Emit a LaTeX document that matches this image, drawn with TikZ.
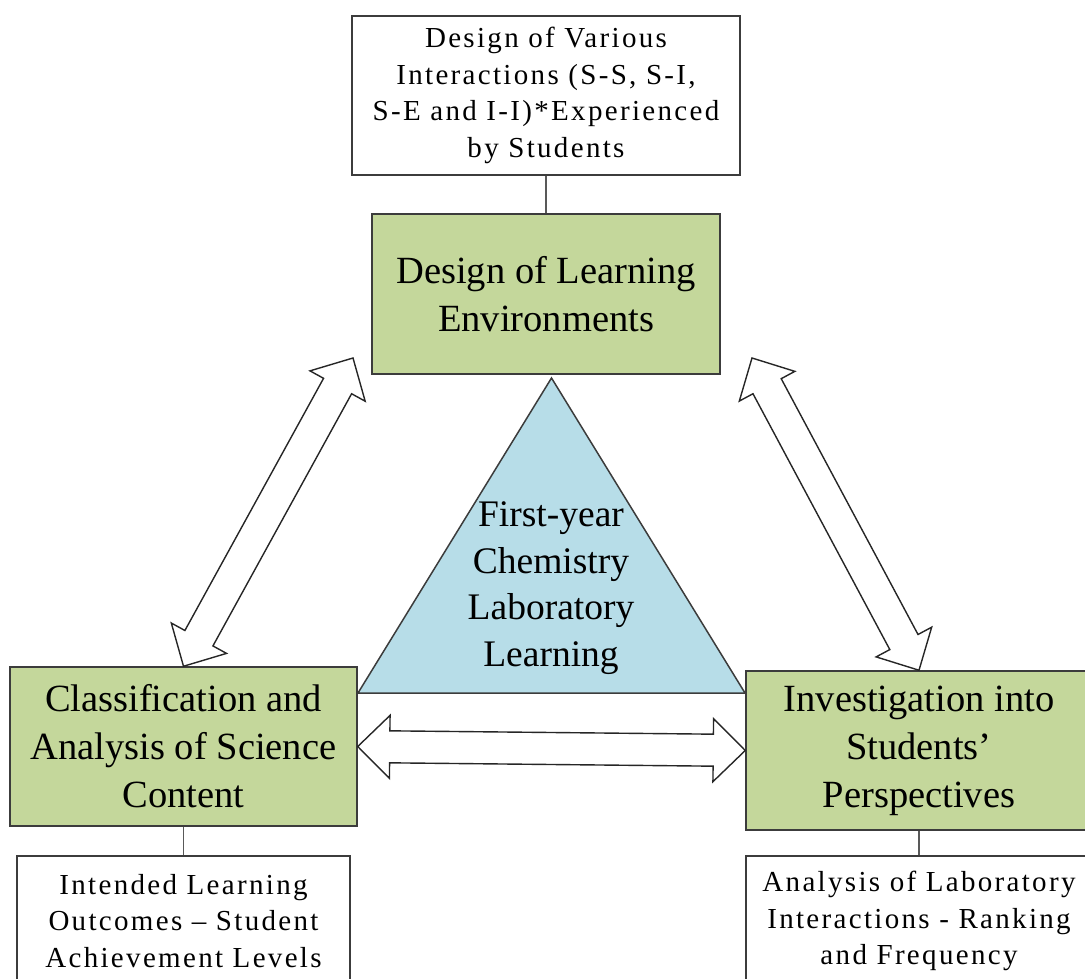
\documentclass[tikz,border=0pt]{standalone}
\usepackage{fontspec}
\setmainfont{Liberation Serif}
\newfontfamily\notefont{Liberation Serif}[LetterSpace=8]
\usetikzlibrary{calc}

\definecolor{boxgreen}{RGB}{196,215,155}
\definecolor{triblue}{RGB}{183,221,232}
\definecolor{edgegray}{RGB}{60,60,60}

\tikzset{
  greenbox/.style={draw=edgegray, line width=1.5pt, fill=boxgreen, align=center,
    font=\fontsize{38.5}{48}\selectfont, inner sep=0pt},
  notebox/.style={draw=edgegray, line width=1.5pt, fill=white, align=center,
    font=\notefont\fontsize{29}{36.5}\selectfont, inner sep=0pt},
  link/.style={draw=edgegray!85, line width=1.5pt},
  fatarrow/.style={draw=black!85, line width=1.4pt, fill=white, line join=miter},
  tri/.style={draw=edgegray, line width=1.5pt, fill=triblue, line join=miter},
}

% hollow double-headed block arrow between two points
\newcommand\dblarrow[2]{%
  \coordinate (ha) at ($(#1)!32pt!(#2)$);
  \coordinate (hb) at ($(#2)!32pt!(#1)$);
  \draw[fatarrow] (#1) -- ($(ha)!31.5pt!90:(#2)$) -- ($(ha)!16pt!90:(#2)$)
    -- ($(hb)!16pt!-90:(#1)$) -- ($(hb)!31.5pt!-90:(#1)$) -- (#2)
    -- ($(hb)!31.5pt!90:(#1)$) -- ($(hb)!16pt!90:(#1)$)
    -- ($(ha)!16pt!-90:(#2)$) -- ($(ha)!31.5pt!-90:(#2)$) -- cycle;}

\begin{document}
\begin{tikzpicture}[x=1pt, y=-1pt]
\useasboundingbox (0,0) rectangle (1085,979);

% central triangle
\coordinate (tA) at (551.5,378);
\coordinate (tL) at (358,693);
\coordinate (tR) at (745,693);
\draw[tri] (tA) -- (tR) -- (tL) -- cycle;
\node[font=\fontsize{37.5}{46.5}\selectfont, align=center, inner sep=0pt] (fyc) at (551,588)
  {First-year\\Chemistry\\Laboratory\\Learning};

% boxes
\node[notebox, minimum width=388, minimum height=159] (dvi) at (546,95.5)
  {Design of Various\\Interactions (S-S, S-I,\\S-E and I-I)*Experienced\\by Students};
\node[greenbox, minimum width=348, minimum height=160] (dle) at (546,294)
  {Design of Learning\\Environments};
\node[greenbox, minimum width=347, minimum height=159] (cls) at (183.5,746.5)
  {Classification and\\Analysis of Science\\Content};
\node[greenbox, minimum width=346, minimum height=159] (inv) at (919,750.5)
  {Investigation into\\Students’\\Perspectives};
\node[notebox, minimum width=333, minimum height=130] (ilo) at (183.5,921)
  {Intended Learning\\Outcomes – Student\\Achievement Levels};
\node[notebox, minimum width=346, minimum height=130] (alr) at (919,921)
  {Analysis of Laboratory\\Interactions - Ranking\\and Frequency};

% links
\draw[link] (dvi.south) -- (dle.north);
\draw[link] (cls.south) -- (ilo.north);
\draw[link] (inv.south) -- (alr.north);

% block arrows
\coordinate (lTop) at (353,358);
\coordinate (rTop) at (752,358);
\dblarrow{cls.north}{lTop}
\dblarrow{rTop}{inv.north}
\dblarrow{cls.east}{inv.west}
\end{tikzpicture}
\end{document}
